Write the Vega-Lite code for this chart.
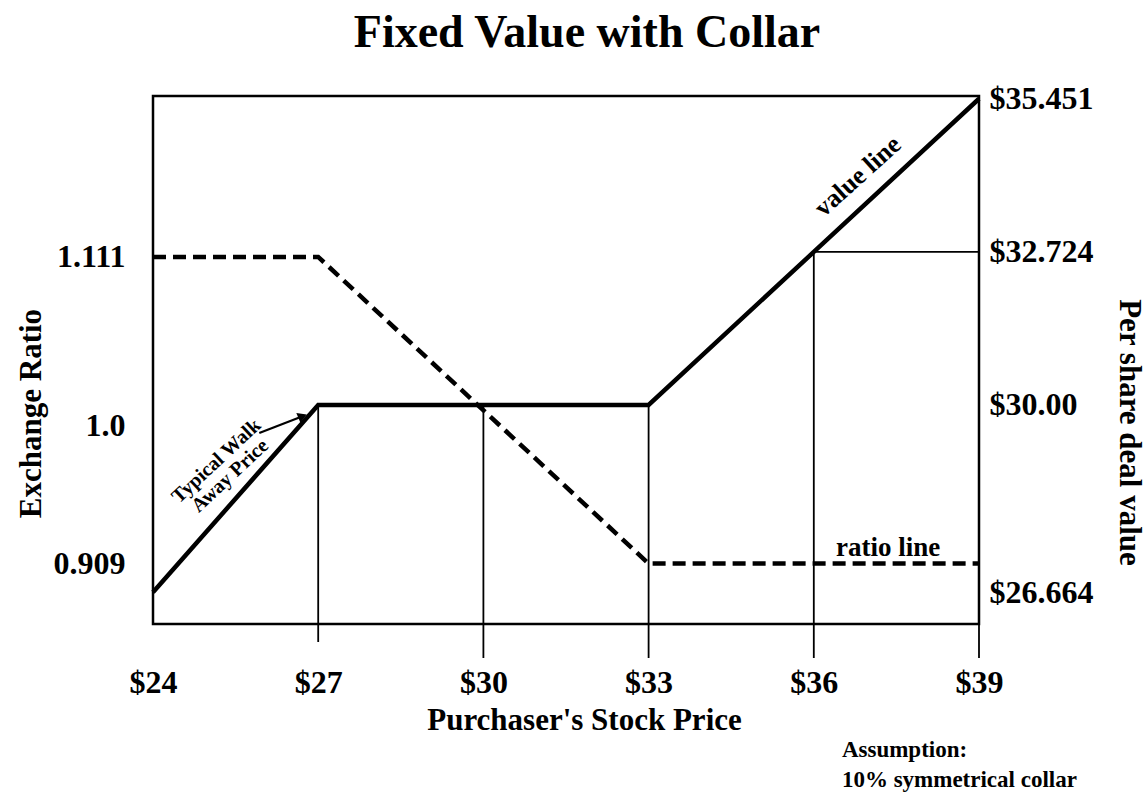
{
  "$schema": "https://vega.github.io/schema/vega-lite/v6.json",
  "autosize": {"type": "none"},
  "padding": {"left": 153, "top": 96, "right": 168, "bottom": 171},
  "width": 826,
  "height": 528,
  "background": "white",
  "title": {
    "text": "Fixed Value with Collar",
    "font": "Liberation Serif",
    "fontWeight": "bold",
    "fontSize": 46,
    "color": "black",
    "anchor": "middle",
    "dx": 21,
    "dy": -22
  },
  "config": {
    "view": {"stroke": "black", "strokeWidth": 2.5},
    "axis": {"labelColor": "black", "titleColor": "black", "labelFont": "Liberation Serif", "titleFont": "Liberation Serif", "labelFontWeight": "bold", "titleFontWeight": "bold", "grid": false, "ticks": false, "domain": false}
  },
  "resolve": {"scale": {"y": "independent"}, "axis": {"y": "independent"}},
  "layer": [
    {
      "layer": [
        {
          "data": {"values": [
            {"price": 24, "value": 26.664},
            {"price": 27, "value": 30},
            {"price": 33, "value": 30},
            {"price": 36, "value": 32.724},
            {"price": 39, "value": 35.451}
          ]},
          "mark": {"type": "line", "color": "black", "strokeWidth": 4.5, "clip": false},
          "encoding": {
            "x": {"field": "price", "type": "quantitative", "scale": {"domain": [24, 39], "nice": false, "zero": false},
              "axis": {"orient": "bottom", "values": [24, 27, 30, 33, 36, 39], "labelExpr": "'$' + datum.value", "labelFontSize": 32, "labelPadding": 43, "labelFlush": false, "title": "Purchaser's Stock Price", "titleFontSize": 31, "titleX": 431, "titleY": 96, "titleBaseline": "middle"}},
            "y": {"field": "value", "type": "quantitative", "scale": {"domain": [26.1, 35.5], "nice": false, "zero": false},
              "axis": {"orient": "right", "values": [26.664, 30, 32.724, 35.451], "labelExpr": "'$' + (datum.value == 30 ? '30.00' : format(datum.value, '.3f'))", "labelFontSize": 32, "labelPadding": 10, "labelFlush": false, "labelBaseline": "middle", "title": "Per share deal value", "titleFontSize": 31, "titleAngle": 90, "titleX": 149, "titleY": 336, "titleAlign": "center", "titleBaseline": "middle"}}
          }
        },
        {
          "data": {"values": [
            {"price": 27, "price2": 27, "value": 25.78, "value2": 30},
            {"price": 30, "price2": 30, "value": 25.495, "value2": 30},
            {"price": 33, "price2": 33, "value": 25.495, "value2": 30},
            {"price": 36, "price2": 36, "value": 25.495, "value2": 32.724},
            {"price": 39, "price2": 39, "value": 25.495, "value2": 26.1},
            {"price": 36, "price2": 39, "value": 32.724, "value2": 32.724}
          ]},
          "mark": {"type": "rule", "color": "black", "strokeWidth": 1.8, "clip": false},
          "encoding": {
            "x": {"field": "price", "type": "quantitative"},
            "x2": {"field": "price2"},
            "y": {"field": "value", "type": "quantitative"},
            "y2": {"field": "value2"}
          }
        },
        {
          "data": {"values": [
            {"price": 25.93, "value": 29.5},
            {"price": 26.716, "value": 29.8}
          ]},
          "mark": {"type": "line", "color": "black", "strokeWidth": 2.2},
          "encoding": {
            "x": {"field": "price", "type": "quantitative"},
            "y": {"field": "value", "type": "quantitative"}
          }
        },
        {
          "data": {"values": [{"price": 26.716, "value": 29.8}]},
          "mark": {"type": "point", "shape": "triangle-right", "filled": true, "color": "black", "opacity": 1, "size": 110, "angle": -23},
          "encoding": {
            "x": {"field": "price", "type": "quantitative"},
            "y": {"field": "value", "type": "quantitative"}
          }
        },
        {
          "data": {"values": [{"price": 36.8, "value": 34.07, "label": "value line"}]},
          "mark": {"type": "text", "font": "Liberation Serif", "fontWeight": "bold", "fontSize": 26, "angle": -42, "align": "center", "baseline": "middle", "color": "black"},
          "encoding": {
            "x": {"field": "price", "type": "quantitative"},
            "y": {"field": "value", "type": "quantitative"},
            "text": {"field": "label"}
          }
        },
        {
          "data": {"values": [{"price": 25.15, "value": 29.0, "label": "Typical Walk\nAway Price"}]},
          "mark": {"type": "text", "font": "Liberation Serif", "fontWeight": "bold", "fontSize": 20, "lineHeight": 20, "lineBreak": "\n", "angle": -43, "align": "center", "baseline": "middle", "color": "black"},
          "encoding": {
            "x": {"field": "price", "type": "quantitative"},
            "y": {"field": "value", "type": "quantitative"},
            "text": {"field": "label"}
          }
        },
        {
          "data": {"values": [{"price": 36.51, "value": 24.05, "label": "Assumption:\n10% symmetrical collar"}]},
          "mark": {"type": "text", "font": "Liberation Serif", "fontWeight": "bold", "fontSize": 23, "lineHeight": 30, "lineBreak": "\n", "align": "left", "baseline": "top", "color": "black"},
          "encoding": {
            "x": {"field": "price", "type": "quantitative"},
            "y": {"field": "value", "type": "quantitative"},
            "text": {"field": "label"}
          }
        }
      ]
    },
    {
      "layer": [
        {
          "data": {"values": [
            {"price": 24, "ratio": 1.111},
            {"price": 27, "ratio": 1.111},
            {"price": 33, "ratio": 0.909},
            {"price": 39, "ratio": 0.909}
          ]},
          "mark": {"type": "line", "color": "black", "strokeWidth": 4.5, "strokeDash": [13, 7]},
          "encoding": {
            "x": {"field": "price", "type": "quantitative"},
            "y": {"field": "ratio", "type": "quantitative", "scale": {"domain": [0.8692, 1.217], "nice": false, "zero": false},
              "axis": {"orient": "left", "values": [0.909, 1.0, 1.111], "labelExpr": "datum.value == 1 ? '1.0' : format(datum.value, '.3f')", "labelFontSize": 32, "labelPadding": 28, "labelFlush": false, "labelBaseline": "middle", "title": "Exchange Ratio", "titleFontSize": 31, "titleAngle": 270, "titleX": -122, "titleY": 317, "titleAlign": "center", "titleBaseline": "middle"}}
          }
        },
        {
          "data": {"values": [{"price": 37.35, "ratio": 0.9195, "label": "ratio line"}]},
          "mark": {"type": "text", "font": "Liberation Serif", "fontWeight": "bold", "fontSize": 27, "align": "center", "baseline": "middle", "color": "black"},
          "encoding": {
            "x": {"field": "price", "type": "quantitative"},
            "y": {"field": "ratio", "type": "quantitative"},
            "text": {"field": "label"}
          }
        }
      ]
    }
  ]
}
